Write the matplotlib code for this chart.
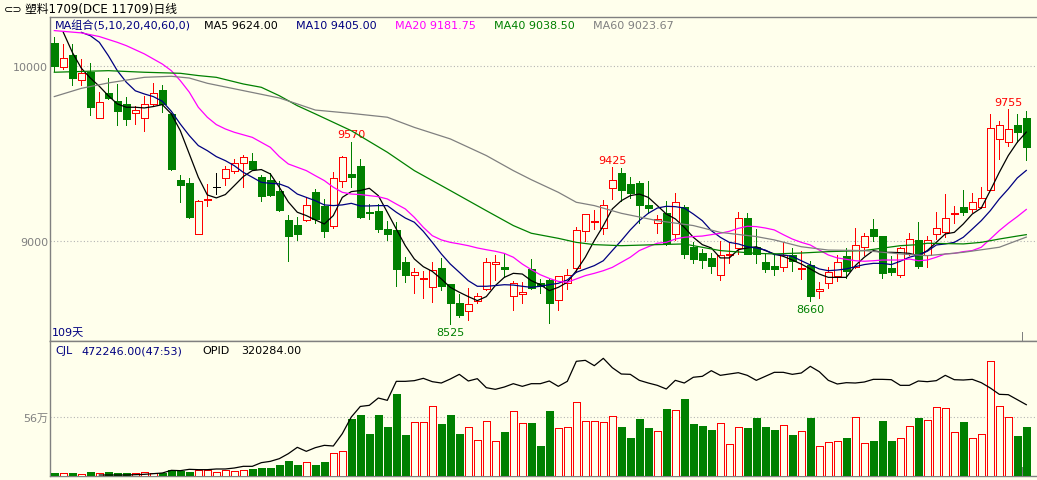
import numpy as np
import matplotlib.pyplot as plt

plt.rcParams['font.family'] = ['DejaVu Sans', 'Noto Sans CJK SC']

W, H = 1037, 481
BG = '#FFFFEC'
RED = '#FF0000'
GREEN = '#008000'
GREY = '#808080'
NAVY = '#000080'
PX = 0.72  # one pixel in points

# daily OHLC, 109 sessions
opens = [10135, 9995, 10065, 9920, 9970, 9705, 9850, 9800, 9785, 9735,
         9705, 9785, 9865, 9730, 9350, 9335, 9040, 9235, 9310, 9360,
         9400, 9450, 9460, 9370, 9350, 9290, 9120, 9095, 9120, 9280,
         9200, 9085, 9345, 9385, 9430, 9170, 9175, 9070, 9065, 8880,
         8810, 8785, 8740, 8845, 8755, 8650, 8600, 8660, 8725, 8870,
         8855, 8685, 8700, 8840, 8760, 8780, 8665, 8760, 8850, 9060,
         9110, 9075, 9305, 9390, 9330, 9335, 9210, 9105, 9160, 9040,
         9195, 8965, 8935, 8905, 8810, 8920, 8960, 9135, 8965, 8880,
         8860, 8855, 8920, 8840, 8865, 8715, 8760, 8800, 8915, 8855,
         8970, 9070, 9030, 8845, 8810, 8925, 9010, 8920, 9040, 9055,
         9155, 9195, 9185, 9195, 9295, 9585, 9570, 9665, 9705]
highs = [10165, 10130, 10125, 10040, 10020, 9855, 9935, 9900, 9825, 9775,
         9830, 9905, 9895, 9735, 9380, 9360, 9235, 9330, 9390, 9430,
         9470, 9495, 9505, 9380, 9390, 9345, 9150, 9140, 9250, 9300,
         9240, 9395, 9490, 9570, 9470, 9215, 9215, 9115, 9110, 8910,
         8850, 8830, 8880, 8905, 8755, 8700, 8735, 8705, 8905, 8920,
         8925, 8775, 8770, 8900, 8785, 8790, 8800, 8840, 9080, 9155,
         9180, 9235, 9425, 9420, 9365, 9345, 9345, 9150, 9230, 9275,
         9205, 8995, 8955, 8935, 9000, 8990, 9170, 9160, 9070, 8925,
         8925, 8995, 8960, 8945, 8890, 8765, 8855, 8920, 8960, 9075,
         9045, 9130, 9030, 8915, 8965, 9045, 9110, 9030, 9165, 9270,
         9200, 9295, 9275, 9310, 9730, 9685, 9755, 9730, 9745]
lows = [9975, 9985, 9895, 9895, 9720, 9705, 9815, 9665, 9665, 9670,
        9630, 9780, 9740, 9405, 9225, 9135, 9040, 9200, 9270, 9320,
        9390, 9310, 9405, 9230, 9260, 9175, 8885, 9005, 9115, 9105,
        9025, 9075, 9310, 9310, 9135, 9125, 9055, 9005, 8745, 8770,
        8705, 8675, 8655, 8720, 8525, 8570, 8550, 8650, 8720, 8780,
        8795, 8605, 8645, 8725, 8705, 8535, 8610, 8725, 8825, 9000,
        9070, 9040, 9240, 9230, 9250, 9105, 9160, 9045, 8980, 9010,
        8905, 8875, 8850, 8820, 8780, 8875, 8925, 8925, 8875, 8825,
        8805, 8830, 8830, 8785, 8660, 8675, 8735, 8775, 8790, 8850,
        8920, 9000, 8790, 8810, 8795, 8920, 8845, 8855, 9015, 9025,
        9105, 9150, 9165, 9190, 9295, 9470, 9545, 9570, 9465]
closes = [10000, 10050, 9935, 9960, 9770, 9795, 9820, 9745, 9700, 9750,
          9785, 9850, 9785, 9415, 9320, 9140, 9230, 9240, 9310, 9415,
          9445, 9480, 9415, 9260, 9265, 9180, 9030, 9040, 9210, 9130,
          9060, 9360, 9480, 9370, 9140, 9160, 9070, 9040, 8840, 8805,
          8825, 8790, 8835, 8745, 8645, 8580, 8640, 8685, 8880, 8880,
          8840, 8760, 8710, 8735, 8745, 8645, 8800, 8810, 9065, 9155,
          9115, 9205, 9350, 9295, 9275, 9205, 9190, 9130, 8990, 9225,
          8930, 8900, 8895, 8860, 8920, 8930, 9135, 8925, 8925, 8840,
          8840, 8920, 8890, 8845, 8690, 8730, 8825, 8880, 8830, 8980,
          9030, 9030, 8820, 8825, 8960, 9015, 8860, 9005, 9075, 9135,
          9160, 9165, 9225, 9250, 9650, 9665, 9640, 9625, 9540]

# volume (CJL) and open interest (OPID), in 10k lots
volumes = [3.2, 3.2, 3.2, 2.2, 4.1, 2.8, 4.1, 3.2, 3.2, 2.8,
           3.8, 2.8, 3.2, 5.7, 4.7, 4.1, 5.7, 5.7, 4.1, 5.7,
           4.7, 5.7, 7.0, 7.9, 7.9, 10.8, 14.6, 10.8, 13.3, 10.8,
           13.6, 21.8, 23.7, 54.4, 58.2, 40.2, 58.2, 46.8, 78.2, 39.2,
           51.3, 51.3, 66.4, 49.7, 58.2, 40.2, 46.5, 34.2, 52.2, 33.2,
           42.1, 61.7, 50.3, 50.6, 28.8, 62.0, 45.6, 46.5, 70.2, 52.2,
           52.2, 51.3, 57.0, 46.8, 36.4, 54.4, 45.9, 42.7, 63.9, 62.6,
           73.4, 49.7, 47.8, 44.0, 50.3, 30.4, 46.8, 45.9, 55.4, 46.8,
           44.0, 48.4, 39.2, 42.7, 55.4, 28.5, 32.3, 33.2, 36.4, 56.0,
           31.3, 33.5, 52.5, 33.5, 36.1, 47.5, 55.4, 53.2, 65.5, 64.5,
           41.8, 51.6, 36.1, 39.9, 109.2, 66.4, 56.0, 38.3, 47.2]
oi_start = 5
oi = [0.58, 0.58, 0.58, 0.58, 0.73,
      0.88, 1.18, 1.47, 2.67, 2.52, 3.12, 2.97, 2.97, 3.27, 3.27,
      3.71, 4.46, 4.46, 6.10, 6.69, 7.89, 10.12, 12.96, 11.17, 12.81,
      13.85, 13.55, 19.07, 26.52, 31.25, 31.74, 35.02, 33.98, 42.48, 42.48,
      42.78, 43.82, 42.33, 41.73, 43.52, 45.61, 42.63, 43.67, 39.65, 38.90,
      39.94, 41.43, 40.24, 41.43, 41.43, 42.63, 40.24, 42.48, 51.43, 51.87,
      49.49, 52.77, 48.59, 45.76, 45.61, 42.93, 41.73, 40.69, 39.05, 42.93,
      41.73, 44.30, 44.72, 47.25, 45.16, 45.76, 46.35, 45.16, 42.93, 44.72,
      46.51, 46.51, 45.61, 46.21, 49.19, 46.80, 42.93, 41.29, 41.88, 41.73,
      42.18, 43.37, 43.37, 43.22, 40.69, 40.69, 42.63, 42.33, 42.78, 45.16,
      43.22, 43.07, 43.37, 41.88, 39.50, 36.67, 36.51, 34.28, 32.03]

# moving averages
ma5_start = 1
ma5 = [10194, 10080, 9989, 9933, 9886, 9832, 9785, 9766, 9766, 9762,
       9770, 9781, 9728, 9632, 9499, 9366, 9265, 9248, 9267, 9318,
       9370, 9404, 9410, 9385, 9309, 9225, 9166, 9147, 9122, 9099,
       9147, 9251, 9284, 9290, 9303, 9261, 9166, 9070, 8975, 8899,
       8855, 8828, 8785, 8737, 8709, 8684, 8661, 8684, 8747, 8794,
       8817, 8813, 8775, 8752, 8718, 8737, 8766, 8832, 8909, 9004,
       9089, 9185, 9232, 9261, 9270, 9251, 9204, 9156, 9128, 9080,
       9023, 8981, 8962, 8905, 8905, 8952, 8962, 8969, 8947, 8928,
       8914, 8893, 8870, 8842, 8813, 8794, 8794, 8794, 8861, 8909,
       8947, 8937, 8937, 8935, 8931, 8918, 8947, 8994, 9042, 9051,
       9099, 9156, 9190, 9290, 9394, 9490, 9566, 9624]
ma10_start = 3
ma10 = [10194, 10175, 10137, 10061, 9975, 9909, 9860, 9842,
        9827, 9800, 9743, 9670, 9604, 9547, 9518, 9484, 9461, 9432,
        9394, 9366, 9337, 9331, 9328, 9309, 9270, 9251, 9232, 9208,
        9204, 9208, 9217, 9202, 9202, 9204, 9204, 9166, 9133, 9109,
        9057, 8994, 8928, 8870, 8823, 8775, 8743, 8743, 8747, 8752,
        8750, 8743, 8737, 8743, 8752, 8760, 8779, 8823, 8842, 8861,
        8889, 8947, 9004, 9065, 9118, 9160, 9190, 9200, 9198, 9190,
        9156, 9118, 9061, 9023, 8994, 8985, 8969, 8962, 8950, 8924,
        8922, 8914, 8889, 8865, 8842, 8832, 8836, 8842, 8855, 8867,
        8874, 8874, 8867, 8886, 8909, 8922, 8943, 8979, 8985, 8994,
        9023, 9070, 9118, 9175, 9242, 9299, 9362, 9405]
ma20_idx = [0, 3, 5, 7, 8, 10, 12, 13, 14, 15, 16, 17, 18, 19, 20, 22, 24, 25, 26] + list(range(27, 109))
ma20 = [10204, 10191, 10170, 10137, 10118, 10071, 10013, 9975, 9918, 9852,
        9766, 9709, 9667, 9642, 9623, 9594, 9537, 9484, 9442,
        9423, 9404, 9375, 9347, 9309, 9280, 9270, 9267, 9261, 9255,
        9242, 9213, 9185, 9137, 9080, 9032, 9008, 8994, 8985, 8975,
        8962, 8952, 8943, 8931, 8909, 8870, 8838, 8809, 8788, 8771,
        8766, 8785, 8804, 8817, 8832, 8851, 8880, 8909, 8947, 8969,
        8989, 8994, 9013, 9023, 9027, 9030, 9038, 9046, 9057, 9074,
        9086, 9084, 9076, 9065, 9038, 9013, 8994, 8979, 8950, 8922,
        8905, 8897, 8889, 8886, 8889, 8893, 8893, 8893, 8899, 8889,
        8893, 8909, 8928, 8931, 8941, 8947, 8966, 9013, 9061, 9103,
        9141, 9182]
ma40_idx = [0, 6, 10, 14, 16, 18, 21, 23, 25, 27, 29, 33, 37, 40, 44, 48, 51, 53, 56, 58,
            60, 63, 67, 70, 71, 74, 78, 80, 83, 86, 90, 94, 96, 97, 101, 103, 105, 107, 108]
ma40 = [9966, 9975, 9966, 9960, 9947, 9937, 9899, 9880, 9832, 9775, 9728, 9632, 9509, 9404,
        9290, 9175, 9090, 9046, 9017, 8994, 8981, 8975, 8981, 8985, 8975, 8947, 8931, 8928,
        8933, 8941, 8947, 8975, 8981, 8989, 8985, 8994, 9013, 9030, 9038]
ma60_idx = [0, 3, 6, 10, 13, 15, 17, 21, 25, 27, 29, 33, 37, 40, 44, 48, 51, 53, 56, 58,
            60, 63, 67, 71, 74, 78, 80, 83, 86, 90, 94, 97, 101, 105, 108]
ma60 = [9827, 9874, 9905, 9937, 9943, 9933, 9903, 9861, 9819, 9785, 9750, 9731, 9709, 9651,
        9585, 9490, 9404, 9352, 9280, 9223, 9204, 9160, 9118, 9090, 9051, 9027, 9008, 8969,
        8950, 8947, 8928, 8918, 8937, 8966, 9024]

ma_legend = [('MA组合(5,10,20,40,60,0)', NAVY, 55), ('MA5 9624.00', 'black', 204),
             ('MA10 9405.00', NAVY, 296), ('MA20 9181.75', '#FF00FF', 395),
             ('MA40 9038.50', GREEN, 494), ('MA60 9023.67', GREY, 593)]
marks = [(33, 'high', RED), (62, 'high', RED), (106, 'high', RED),
         (44, 'low', GREEN), (84, 'low', GREEN)]
cursor_pos = 107.55


def fx(px):
    return px / W


def fy(py):
    return 1 - py / H


o = np.array(opens, float)
h = np.array(highs, float)
l = np.array(lows, float)
c = np.array(closes, float)
n = len(c)
x = np.arange(n)
up = c > o
down = c < o
flat = c == o

fig = plt.figure(figsize=(W / 100, H / 100), dpi=100, facecolor=BG)
ax = fig.add_axes([fx(50), fy(342.3), (W - 50) / W, 324 / H], facecolor=BG)
axv = fig.add_axes([fx(50), fy(477.3), (W - 50) / W, 135 / H], facecolor=BG)

for a in (ax, axv):
    a.set_xlim(-0.48, 109.19)
    a.set_xticks([])
    for s in ('top', 'left', 'bottom'):
        a.spines[s].set_color(GREY)
        a.spines[s].set_linewidth(1.0)
    a.spines['right'].set_visible(False)
    a.tick_params(axis='y', length=0, pad=1.5, labelsize=8, labelcolor=GREY)
    a.grid(axis='y', color='#b4b4b4', linestyle=(0, (1, 2)), lw=0.8)
    a.set_axisbelow(True)

# price panel
ax.set_ylim(8428.6, 10280)
ax.set_yticks([9000, 10000])
ax.set_yticklabels(['9000', '10000'])

wick_col = np.where(up, RED, np.where(down, GREEN, 'black'))
ax.vlines(x, l, h, colors=wick_col, lw=PX, zorder=2, antialiased=False)
bot = np.minimum(o, c)
hgt = np.abs(c - o)
ax.bar(x[up], hgt[up], bottom=bot[up], width=0.72, facecolor=BG, edgecolor=RED,
       lw=PX, zorder=3, antialiased=False)
ax.bar(x[down], hgt[down], bottom=bot[down], width=0.72, facecolor=GREEN, edgecolor=GREEN,
       lw=PX, zorder=3, antialiased=False)
ax.hlines(c[flat], x[flat] - 0.36, x[flat] + 0.36, colors='black', lw=PX, zorder=3,
          antialiased=False)

ax.plot(np.arange(ma5_start, ma5_start + len(ma5)), ma5, color='black', lw=0.9, zorder=4)
ax.plot(np.arange(ma10_start, ma10_start + len(ma10)), ma10, color=NAVY, lw=0.9, zorder=4)
ax.plot(ma20_idx, ma20, color='#FF00FF', lw=0.9, zorder=4)
ax.plot(ma40_idx, ma40, color=GREEN, lw=0.9, zorder=4)
ax.plot(ma60_idx, ma60, color=GREY, lw=0.9, zorder=4)
ax.axvline(cursor_pos, ymin=0, ymax=9 / 324, color=GREY, lw=PX, antialiased=False)

for i, kind, col in marks:
    if kind == 'high':
        ax.annotate(f'{highs[i]}', (i, highs[i]), xytext=(0, 1.5), textcoords='offset points',
                    ha='center', va='bottom', color=col, fontsize=8)
    else:
        ax.annotate(f'{lows[i]}', (i, lows[i]), xytext=(0, -2), textcoords='offset points',
                    ha='center', va='top', color=col, fontsize=8)

# volume panel
vol = np.array(volumes)
vol_up = c >= o
axv.set_ylim(0, 128.1)
axv.set_yticks([56])
axv.set_yticklabels(['56万'])
axv.bar(x[vol_up], vol[vol_up], width=0.72, facecolor=BG, edgecolor=RED, lw=PX,
        zorder=3, antialiased=False)
axv.bar(x[~vol_up], vol[~vol_up], width=0.72, facecolor=GREEN, edgecolor=GREEN, lw=PX,
        zorder=3, antialiased=False)
axv.axvline(cursor_pos, ymin=0, ymax=9 / 135, color=GREY, lw=PX, antialiased=False)

axo = axv.twinx()
axo.set_ylim(0, 60.39)
axo.axis('off')
axo.plot(np.arange(oi_start, oi_start + len(oi)), oi, color='black', lw=0.9, zorder=4)

# texts
fig.text(fx(4), fy(10), '⊂⊃', fontsize=8, va='center', color='black')
fig.text(fx(25), fy(10), '塑料1709(DCE 11709)日线', fontsize=8.5, va='center', color='black')
for label, col, px in ma_legend:
    fig.text(fx(px), fy(26), label, fontsize=8, va='center', color=col)
fig.text(fx(52), fy(333), '109天', fontsize=8, va='center', color=NAVY)
fig.text(fx(55), fy(351.5), 'CJL', fontsize=8, va='center', color=NAVY)
fig.text(fx(81), fy(351.5), '472246.00(47:53)', fontsize=8, va='center', color=NAVY)
fig.text(fx(202), fy(351.5), 'OPID', fontsize=8, va='center', color='black')
fig.text(fx(241), fy(351.5), '320284.00', fontsize=8, va='center', color='black')

fig.savefig('out.png', dpi=100, facecolor=BG)
